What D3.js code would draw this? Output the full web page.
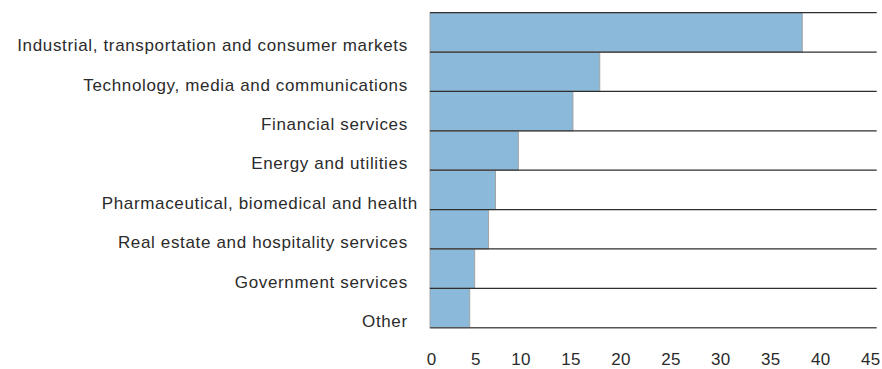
<!DOCTYPE html>
<html>
<head>
<meta charset="utf-8">
<script src="https://cdn.jsdelivr.net/npm/d3@7"></script>
<style>
  html, body { margin: 0; padding: 0; background: #fff; }
  svg { display: block; }
  text { font-family: "Liberation Sans", Arial, Helvetica, sans-serif; fill: #2b2b2b; }
</style>
</head>
<body>
<svg id="chart" width="882" height="369"></svg>
<script>
// Sectors, top to bottom
const categories = [
  "Industrial, transportation and consumer markets",
  "Technology, media and communications",
  "Financial services",
  "Energy and utilities",
  "Pharmaceutical, biomedical and health",
  "Real estate and hospitality services",
  "Government services",
  "Other"
];

// Share per sector
const values = [37.5, 17.1, 14.4, 8.9, 6.6, 5.9, 4.5, 4.0];

// Value axis ticks
const xTicks = [0, 5, 10, 15, 20, 25, 30, 35, 40, 45];

const svg = d3.select("#chart");

const x = d3.scaleLinear().domain([0, 45]).range([430, 876.7]);
const y = d3.scaleBand().domain(categories).range([12.7, 327.7]).padding(0);

const rows = categories.map((c, i) => ({ cat: c, val: values[i] }));

// Bars fill their whole band
svg.append("g")
  .selectAll("rect")
  .data(rows)
  .join("rect")
  .attr("x", x(0))
  .attr("y", d => y(d.cat))
  .attr("width", d => x(d.val) - x(0))
  .attr("height", y.bandwidth())
  .attr("fill", "#8bb9d9")
  .attr("stroke", "#a3a3a3")
  .attr("stroke-width", 1);

// Separator lines above each band and below the last one
const edges = categories.map(c => y(c)).concat([y(categories[categories.length - 1]) + y.bandwidth()]);
svg.append("g")
  .selectAll("line")
  .data(edges)
  .join("line")
  .attr("x1", x(0))
  .attr("x2", x(45))
  .attr("y1", d => d)
  .attr("y2", d => d)
  .attr("stroke", (d, i) => i === edges.length - 1 ? "#555" : "#2e2e2e")
  .attr("stroke-width", (d, i) => i === edges.length - 1 ? 1.5 : 1.2);

// Category labels, right aligned next to the bars
const labelNudge = { "Pharmaceutical, biomedical and health": 10 };
svg.append("g")
  .selectAll("text")
  .data(categories)
  .join("text")
  .attr("x", d => 407.8 + (labelNudge[d] || 0))
  .attr("y", d => y(d) + y.bandwidth() - 0.8)
  .attr("text-anchor", "end")
  .attr("font-size", 17)
  .attr("letter-spacing", 0.65)
  .text(d => d);

// Value axis labels
const axis = svg.append("g")
  .call(d3.axisBottom(x).tickValues(xTicks).tickSize(0).tickFormat(d3.format("d")));
axis.select(".domain").remove();
axis.selectAll(".tick text")
  .attr("y", 365)
  .attr("dy", 0)
  .attr("font-size", 17)
  .attr("letter-spacing", 0.3)
  .attr("fill", "#2b2b2b")
  .style("font-family", "'Liberation Sans', Arial, Helvetica, sans-serif")
  .attr("text-anchor", d => d === 0 ? "middle" : "end")
  .attr("dx", d => d === 0 ? 1 : 1.8 + (d - 22.5) * 0.07);
</script>
</body>
</html>
